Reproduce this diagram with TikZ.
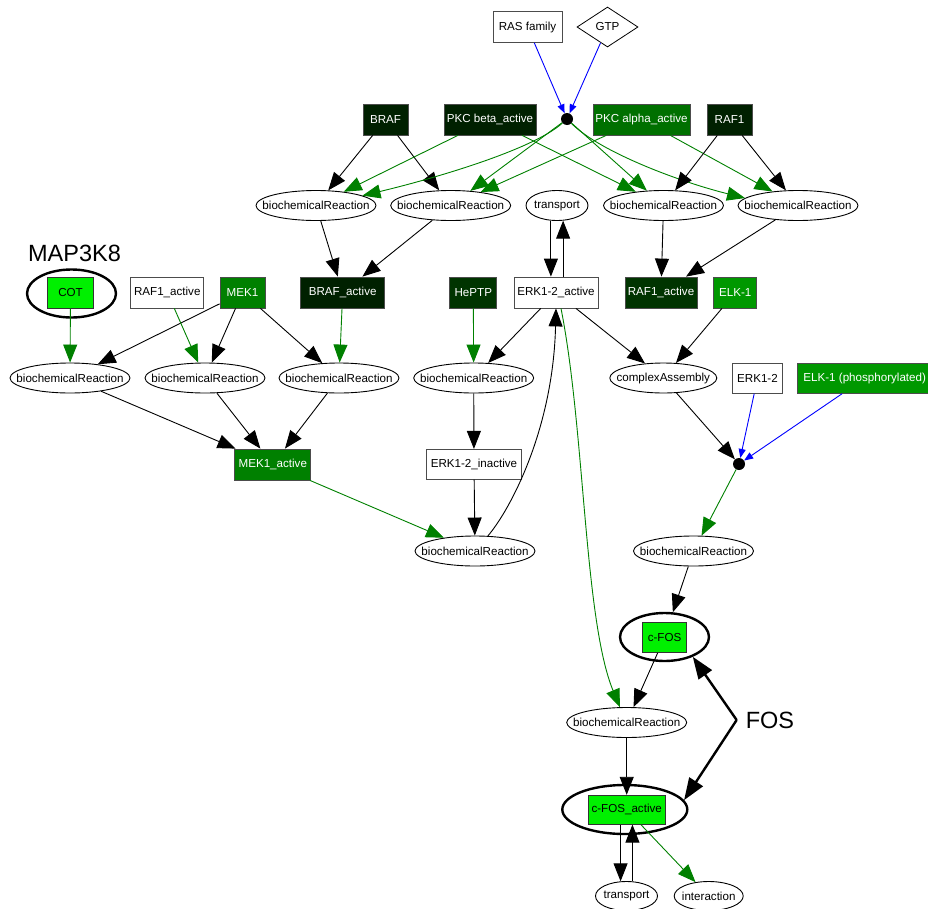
\documentclass[tikz,border=0pt]{standalone}
\usepackage{fontspec}
\setmainfont{Liberation Sans}
\usetikzlibrary{shapes.geometric,arrows.meta}
\definecolor{gdarkA}{RGB}{0,32,0}
\definecolor{gdarkB}{RGB}{0,52,0}
\definecolor{gpkc}{RGB}{0,112,0}
\definecolor{gmek}{RGB}{0,128,0}
\definecolor{gelk}{RGB}{0,152,0}
\definecolor{glime}{RGB}{0,240,0}
\definecolor{edgegreen}{RGB}{0,128,0}
\newcommand\lblfont{\fontsize{11.6bp}{13bp}\selectfont}
\newcommand\bigfont{\fontsize{23.5bp}{28bp}\selectfont}
% ellipse labels take no width, so the ellipse keeps its given size
\newcommand\fixw[1]{\makebox[0pt]{#1}}
\begin{document}
\begin{tikzpicture}[x=1bp,y=1bp,
  box/.style={rectangle, draw=black!70, line width=0.8bp, inner sep=0pt,
    minimum height=31bp, font=\lblfont},
  wbox/.style={box, fill=white, text=black},
  dbox/.style={box, fill=#1, text=white},
  lbox/.style={box, fill=glime, text=black, draw=black!80},
  oval/.style={ellipse, draw=black, line width=0.9bp, inner sep=0pt,
    minimum width=120bp, minimum height=30bp, font=\lblfont},
  ring/.style={ellipse, draw=black, line width=2.4bp, inner sep=0pt},
  joint/.style={circle, fill=black, inner sep=0pt, minimum size=12bp},
  biglabel/.style={inner xsep=9bp, inner ysep=0pt, font=\bigfont},
  blk/.style={draw=black, line width=0.9bp, -{Triangle[length=18bp,width=14bp]}},
  grn/.style={draw=edgegreen, line width=0.9bp, -{Triangle[length=18bp,width=14bp]}},
  blu/.style={draw=blue, line width=0.9bp, -{Triangle[length=9bp,width=7bp]}},
  fosarrow/.style={draw=black, line width=2.4bp, -{Triangle[length=22bp,width=16bp]}}
]
\useasboundingbox (0,0) rectangle (928,-909);

% ---- top: RAS / GTP joint and RAF kinases
\node[wbox, minimum width=69bp] (ras) at (527.5,-27) {RAS family};
\node[diamond, draw=black, line width=0.8bp, inner sep=0pt, minimum width=61bp,
  minimum height=40bp, font=\lblfont] (gtp) at (607.5,-27) {\fixw{GTP}};
\node[joint] (dotA) at (567,-119) {};
\node[dbox=gdarkA, minimum width=45bp] (braf) at (385.5,-119.5) {BRAF};
\node[dbox=gdarkA, minimum width=92bp] (pkcb) at (490,-119.5) {PKC beta\_active};
\node[dbox=gpkc, minimum width=97bp] (pkca) at (641.5,-119.5) {PKC alpha\_active};
\node[dbox=gdarkA, minimum width=45bp] (raf1) at (729.5,-119.5) {RAF1};

\node[oval] (brA) at (316,-205.5) {\fixw{biochemicalReaction}};
\node[oval] (brB) at (450.7,-205.5) {\fixw{biochemicalReaction}};
\node[oval, minimum width=62bp] (trA) at (557,-205.5) {\fixw{transport}};
\node[oval] (brC) at (663.5,-205.5) {\fixw{biochemicalReaction}};
\node[oval] (brD) at (798,-205.5) {\fixw{biochemicalReaction}};

% ---- second row
\node[biglabel] (map) at (74.5,-253.5) {MAP3K8};
\node[ring, minimum width=89bp, minimum height=48bp] (cotring) at (71.5,-293.5) {};
\node[lbox, minimum width=46bp] (cot) at (70.5,-292.5) {COT};
\node[wbox, minimum width=73bp] (raf1w) at (167.3,-292.5) {RAF1\_active};
\node[dbox=gmek, minimum width=45bp] (mek1) at (242.5,-292.5) {MEK1};
\node[dbox=gdarkA, minimum width=84bp] (brafa) at (342.7,-292.5) {BRAF\_active};
\node[dbox=gdarkB, minimum width=47bp] (heptp) at (473.3,-292.5) {HePTP};
\node[wbox, minimum width=84bp] (erka) at (556,-292.5) {ERK1-2\_active};
\node[dbox=gdarkB, minimum width=72bp] (raf1a) at (661,-292.5) {RAF1\_active};
\node[dbox=gelk, minimum width=43bp] (elk1) at (735.3,-292.5) {ELK-1};

% ---- third row
\node[oval] (brE) at (70,-378) {\fixw{biochemicalReaction}};
\node[oval] (brF) at (205,-378) {\fixw{biochemicalReaction}};
\node[oval] (brG) at (339,-378) {\fixw{biochemicalReaction}};
\node[oval] (brH) at (473.7,-378) {\fixw{biochemicalReaction}};
\node[oval, minimum width=107bp] (cplx) at (663.3,-378) {\fixw{complexAssembly}};
\node[wbox, minimum width=50bp, minimum height=30bp] (erk12) at (757.5,-378.3) {ERK1-2};
\node[dbox=gelk, minimum width=134bp, minimum height=30bp] (elkp) at (864.7,-378.3) {ELK-1 (phosphorylated)};

\node[joint] (dotB) at (739,-464) {};
\node[dbox=gmek, minimum width=76bp] (mek1a) at (272.8,-464.5) {MEK1\_active};
\node[wbox, minimum width=95bp, minimum height=30bp] (erki) at (474,-464.3) {ERK1-2\_inactive};

\node[oval] (brI) at (475,-551) {\fixw{biochemicalReaction}};
\node[oval] (brJ) at (693.5,-551) {\fixw{biochemicalReaction}};

% ---- c-FOS part
\node[ring, minimum width=89bp, minimum height=48bp] (cfosring) at (664.5,-637) {};
\node[lbox, minimum width=44bp, minimum height=30bp] (cfos) at (664.5,-637.5) {c-FOS};
\node[oval] (brK) at (626.7,-722.5) {\fixw{biochemicalReaction}};
\node[biglabel] (fos) at (770,-720) {FOS};
\node[ring, minimum width=125bp, minimum height=49bp] (cfosaring) at (624.8,-809.5) {};
\node[lbox, minimum width=77bp, minimum height=29bp] (cfosa) at (626.7,-809.7) {c-FOS\_active};
\node[oval, minimum width=62bp, minimum height=29bp] (trB) at (626.5,-896) {\fixw{transport}};
\node[oval, minimum width=69bp, minimum height=29bp] (inter) at (708.7,-896) {\fixw{interaction}};

% ---- connectors, top
\draw[blu] (ras) -- (dotA);
\draw[blu] (gtp) -- (dotA);
\draw[blk] (braf) -- (brA);
\draw[blk] (braf) -- (brB);
\draw[grn] (pkcb) -- (brA);
\draw[grn] (pkcb) -- (brC);
\draw[grn] (dotA) .. controls (530,-152) and (420,-182) .. (brA.12);
\draw[grn] (dotA) -- (brB);
\draw[grn] (dotA) -- (brC);
\draw[grn] (dotA) .. controls (600,-152) and (680,-182) .. (brD.172);
\draw[grn] (pkca) -- (brB);
\draw[grn] (pkca) -- (brD);
\draw[blk] (raf1) -- (brC);
\draw[blk] (raf1) -- (brD);

\draw[blk] (brA) -- (brafa);
\draw[blk] (brB) -- (brafa);
\draw[blk] (brC) -- (raf1a);
\draw[blk] (brD) -- (raf1a);

% ---- ERK1-2 cycle
\draw[blk] (trA.-112) -- (trA.-112 |- erka.north);
\draw[blk] (trA.-68 |- erka.north) -- (trA.-68);
\draw[blk] (erka) -- (brH);
\draw[blk] (erka) -- (cplx);
\draw[grn] ([xshift=5bp]erka.south) .. controls (585,-430) and (584,-620) .. (brK.114);
\draw[grn] (heptp) -- (brH);
\draw[blk] (brH) -- (erki);
\draw[blk] (erki) -- (brI);
\draw[blk] (brI) .. controls (510,-510) and (553,-430) .. (erka.south);
\draw[grn] (mek1a) -- (brI);

% ---- MEK1 activation
\draw[grn] (cot) -- (brE);
\draw[blk] (mek1) -- (brE);
\draw[grn] (raf1w) -- (brF);
\draw[blk] (mek1) -- (brF);
\draw[blk] (mek1) -- (brG);
\draw[grn] (brafa) -- (brG);
\draw[blk] (brE) -- (mek1a);
\draw[blk] (brF) -- (mek1a);
\draw[blk] (brG) -- (mek1a);

% ---- ELK-1 and c-FOS
\draw[blk] (elk1) -- (cplx);
\draw[blk] (cplx) -- (dotB);
\draw[blu] (erk12) -- (dotB);
\draw[blu] (elkp) -- (dotB);
\draw[grn] (dotB) -- (brJ);
\draw[blk] (brJ) -- (cfosring);
\draw[blk] (cfos) -- (brK);
\draw[blk] (brK) -- (cfosa);
\draw[blk] (trB.112 |- cfosa.south) -- (trB.112);
\draw[blk] (trB.68) -- (trB.68 |- cfosa.south);
\draw[grn] (cfosa) -- (inter);
\draw[fosarrow] (fos.west) -- (cfosring.-35);
\draw[fosarrow] (fos.west) -- (cfosaring.9);
\end{tikzpicture}
\end{document}
